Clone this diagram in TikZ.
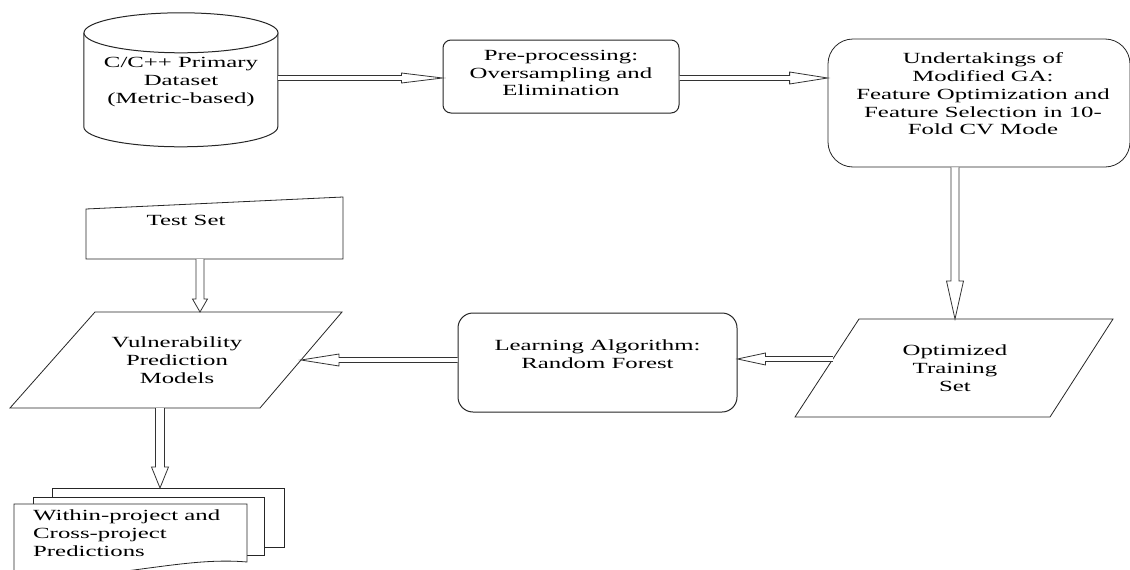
\documentclass[tikz,border=0pt]{standalone}
\usepackage{fontspec}
\setmainfont[FakeStretch=1.6]{Liberation Serif}
\usetikzlibrary{calc}
\tikzset{
  lbl/.style={align=center, font=\fontsize{15.5}{17.7}\selectfont, inner sep=0pt, text=black},
  shp/.style={draw=black!85, line width=1pt, fill=white},
  arrowline/.style={draw=black!80, line width=0.8pt, fill=white, line join=miter},
}
% #1 start, #2 end, #3 half shaft width, #4 half head width, #5 head length
\newcommand\hollowarrow[5]{%
  \coordinate (ha-b) at ($(#2)!#5!(#1)$);
  \draw[arrowline] ($(#1)!#3!90:(#2)$) -- ($(ha-b)!#3!-90:(#1)$) -- ($(ha-b)!#4!-90:(#1)$)
     -- (#2) -- ($(ha-b)!#4!90:(#1)$) -- ($(ha-b)!#3!90:(#1)$) -- ($(#1)!#3!-90:(#2)$);
}
\begin{document}
\begin{tikzpicture}[x=1pt, y=-1pt]
\useasboundingbox (0,0) rectangle (1130,570);
% cylinder
\node[minimum width=194pt, minimum height=134pt, inner sep=0pt] (db) at (181,80) {};
\draw[shp] (db.north west) ++(0,20) -- ++(0,94) arc[start angle=180, end angle=0, x radius=97, y radius=20] -- ++(0,-94);
\draw[shp] ($(db.north)+(0,20)$) ellipse [x radius=97, y radius=20];
\node[lbl] (dbt) at (181,82) {C/C++ Primary\\Dataset\\(Metric-based)};
% pre-processing
\node[shp, rounded corners=8pt, minimum width=236pt, minimum height=73pt, inner sep=0pt] (pre) at (561,76.5) {};
\node[lbl] (pret) at (561,73) {Pre-processing:\\Oversampling and\\Elimination};
% GA box
\node[shp, line width=0.8pt, rounded corners=25pt, minimum width=302pt, minimum height=128pt, inner sep=0pt] (ga) at (979,103) {};
\node[lbl] (gat) at (983,94) {Undertakings of\\Modified GA:\\Feature Optimization and\\Feature Selection in 10-\\Fold CV Mode};
% optimized training set
\coordinate (o1) at (859,319); \coordinate (o2) at (1113,319);
\coordinate (o3) at (1050,417); \coordinate (o4) at (795,417);
\draw[shp, line width=0.8pt] (o1) -- (o2) -- (o3) -- (o4) -- cycle;
\node[lbl] (ots) at (955,368) {Optimized\\Training\\Set};
% learning algorithm
\node[shp, rounded corners=15pt, minimum width=279pt, minimum height=99pt, inner sep=0pt] (la) at (597.5,362.5) {};
\node[lbl] (lat) at (597.5,354) {Learning Algorithm:\\Random Forest};
% VPM
\coordinate (v1) at (95,312); \coordinate (v2) at (342,312);
\coordinate (v3) at (260,408); \coordinate (v4) at (10,408);
\draw[shp, line width=0.8pt] (v1) -- (v2) -- (v3) -- (v4) -- cycle;
\node[lbl] (vpm) at (177,360) {Vulnerability\\Prediction\\Models};
% test set
\coordinate (t1) at (86,209); \coordinate (t2) at (343,197);
\coordinate (t3) at (343,259); \coordinate (t4) at (86,259);
\draw[shp, line width=0.8pt] (t1) -- (t2) -- (t3) -- (t4) -- cycle;
\node[lbl] (ts) at (186,220) {Test Set};
% multi document
\draw[shp, line width=0.8pt] (52,488) rectangle (284,547);
\draw[shp, line width=0.8pt] (33,497) rectangle (264,555);
\draw[shp, line width=0.8pt] (14,578) -- (14,504) -- (247,504) -- (247,562)
   .. controls (180,556) and (110,582) .. (14,576);
\node[lbl, anchor=west, align=left] (pred) at (33,533) {Within-project and\\Cross-project\\Predictions};
% connectors
\coordinate (a1s) at ($(db.east)+(0,-2)$);
\coordinate (a1e) at (a1s -| pre.west);
\hollowarrow{a1s}{a1e}{2.5pt}{5pt}{41pt}
\coordinate (a2s) at ($(pre.east)+(0,1.5)$);
\coordinate (a2e) at (a2s -| ga.west);
\hollowarrow{a2s}{a2e}{2.5pt}{6pt}{38pt}
\coordinate (a3s) at ($(ga.south)+(-24,0)$);
\coordinate (a3e) at (a3s |- o1);
\hollowarrow{a3s}{a3e}{4pt}{8.5pt}{38pt}
\coordinate (a4s) at ($(o1)!0.408!(o4)$);
\coordinate (a4e) at (a4s -| la.east);
\hollowarrow{a4s}{a4e}{2.5pt}{6pt}{28pt}
\coordinate (a5s) at ($(la.west)+(0,-2.5)$);
\coordinate (a5x) at ($(v2)!0.5!(v3)$);
\coordinate (a5e) at (a5s -| a5x);
\hollowarrow{a5s}{a5e}{2.5pt}{6pt}{38pt}
\coordinate (a6s) at ($(ts.south |- t3)+(14,0)$);
\coordinate (a6e) at (a6s |- v1);
\hollowarrow{a6s}{a6e}{4pt}{7.5pt}{13pt}
\coordinate (a7s) at ($(v4)!0.6!(v3)$);
\coordinate (a7e) at (a7s |- 0,488);
\hollowarrow{a7s}{a7e}{4.5pt}{8.5pt}{21pt}
\end{tikzpicture}
\end{document}
